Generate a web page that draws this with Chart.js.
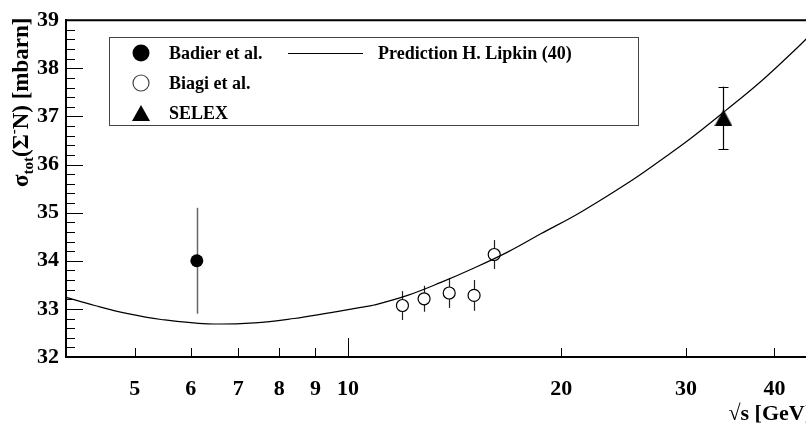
<!DOCTYPE html>
<html><head><meta charset="utf-8">
<script src="https://cdn.jsdelivr.net/npm/chart.js@4/dist/chart.umd.min.js"></script>
<style>html,body{margin:0;padding:0;overflow:hidden;background:#fff;width:806px;height:427px}canvas{display:block}</style>
</head><body><canvas id="c" width="840" height="427"></canvas>
<script>
// ---- data ----
const xTickValues = [5, 6, 7, 8, 9, 10, 20, 30, 40];
const yTickValues = [32, 33, 34, 35, 36, 37, 38, 39];
const badierX = [6.12], badierY = [34.0], badierErr = [1.1];
const biagiX = [11.94, 12.81, 13.90, 15.07, 16.09];
const biagiY = [33.07, 33.21, 33.33, 33.28, 34.13];
const biagiErr = [0.30, 0.27, 0.31, 0.32, 0.30];
const selexX = [33.9], selexY = [36.97], selexErr = [0.65];
const lipkinX = [4.0, 4.39, 4.89, 5.45, 6.34, 7.38, 8.40, 9.36, 9.78, 10.43, 10.89, 12.14, 13.53, 15.07, 16.80, 18.72, 21.31, 24.80, 27.64, 30.46, 34.13, 38.24, 42.61, 44.50, 45.2];
const lipkinY = [33.24, 33.07, 32.90, 32.78, 32.69, 32.71, 32.80, 32.91, 32.96, 33.03, 33.08, 33.28, 33.55, 33.85, 34.18, 34.56, 35.01, 35.61, 36.09, 36.54, 37.12, 37.72, 38.36, 38.63, 38.74];
const seriesNames = ['Badier et al.', 'Biagi et al.', 'SELEX', 'Prediction H. Lipkin (40)'];
const xTitle = '√s [GeV]';
const yTitleParts = [['σ', 0], ['tot', 1], ['(Σ', 0], ['-', 2], ['N) [mbarn]', 0]];

const FONT = '"Liberation Serif", "Times New Roman", serif';
const pts = (xs, ys) => xs.map((x, i) => ({x, y: ys[i]}));

function makeTriangle(w, h) {
  const c = document.createElement('canvas');
  c.width = w; c.height = h;
  const g = c.getContext('2d');
  g.fillStyle = '#000';
  g.beginPath(); g.moveTo(w / 2, 0); g.lineTo(w, h); g.lineTo(0, h); g.closePath(); g.fill();
  return c;
}
const triPlot = makeTriangle(18, 17);
const triLegend = makeTriangle(18, 16);

const errorBars = {
  id: 'errorBars',
  beforeDatasetsDraw(chart) {
    const ctx = chart.ctx, xs = chart.scales.x, ys = chart.scales.y;
    chart.data.datasets.forEach(ds => {
      if (!ds.err) return;
      ctx.save();
      ctx.strokeStyle = ds.errColor; ctx.lineWidth = ds.errWidth;
      ds.data.forEach((p, i) => {
        const px = Math.round(xs.getPixelForValue(p.x)) + 0.5;
        const y1 = ys.getPixelForValue(p.y + ds.err[i]);
        const y2 = ys.getPixelForValue(p.y - ds.err[i]);
        ctx.beginPath(); ctx.moveTo(px, y1); ctx.lineTo(px, y2); ctx.stroke();
        if (ds.cap) {
          ctx.beginPath();
          ctx.moveTo(px - ds.cap, Math.round(y1) + 0.5); ctx.lineTo(px + ds.cap, Math.round(y1) + 0.5);
          ctx.moveTo(px - ds.cap, Math.round(y2) + 0.5); ctx.lineTo(px + ds.cap, Math.round(y2) + 0.5);
          ctx.stroke();
        }
      });
      ctx.restore();
    });
  }
};

const frameAndTicks = {
  id: 'frameAndTicks',
  afterDraw(chart) {
    const ctx = chart.ctx, a = chart.chartArea, xs = chart.scales.x, ys = chart.scales.y;
    ctx.save();
    ctx.strokeStyle = '#000';
    ctx.lineWidth = 2;
    ctx.beginPath();
    ctx.moveTo(a.left - 1, a.top); ctx.lineTo(a.right, a.top); ctx.lineTo(a.right, a.bottom);
    ctx.stroke();
    ctx.lineWidth = 1;
    // y ticks (inward)
    for (let v = ys.min; v <= ys.max + 1e-6; v += 0.2) {
      const major = Math.abs(v - Math.round(v)) < 1e-6;
      const py = Math.round(ys.getPixelForValue(v)) + 0.5;
      const len = major ? 17 : 9;
      ctx.beginPath(); ctx.moveTo(a.left, py); ctx.lineTo(a.left + len, py); ctx.stroke();
    }
    // x ticks (inward)
    xTickValues.forEach(v => {
      const px = Math.round(xs.getPixelForValue(v)) + 0.5;
      const len = v === 10 ? 19 : 9;
      ctx.beginPath(); ctx.moveTo(px, a.bottom); ctx.lineTo(px, a.bottom - len); ctx.stroke();
    });
    // axis titles
    ctx.fillStyle = '#000';
    ctx.font = 'bold 22px ' + FONT;
    ctx.textAlign = 'right'; ctx.textBaseline = 'alphabetic';
    ctx.fillText(xTitle, a.right, 420);
    ctx.translate(28, 187);
    ctx.rotate(-Math.PI / 2);
    ctx.textAlign = 'left';
    let x = 0;
    yTitleParts.forEach(([t, kind]) => {
      const size = kind === 0 ? 23 : 15;
      ctx.font = 'bold ' + size + 'px ' + FONT;
      const dy = kind === 1 ? 5 : (kind === 2 ? -10 : 0);
      ctx.fillText(t, x, dy);
      x += ctx.measureText(t).width;
    });
    ctx.restore();
    // legend
    ctx.save();
    ctx.strokeStyle = '#444'; ctx.lineWidth = 1;
    ctx.fillStyle = '#fff';
    ctx.fillRect(110, 37, 529, 88);
    ctx.strokeRect(109.5, 37.5, 529, 88);
    ctx.font = 'bold 18px ' + FONT;
    ctx.fillStyle = '#000'; ctx.textAlign = 'left'; ctx.textBaseline = 'alphabetic';
    ctx.beginPath(); ctx.arc(141, 53, 8.5, 0, Math.PI * 2); ctx.fill();
    ctx.fillText(seriesNames[0], 169, 59);
    ctx.beginPath(); ctx.arc(141, 83, 8, 0, Math.PI * 2); ctx.fillStyle = '#fff'; ctx.fill(); ctx.lineWidth = 1.2; ctx.stroke();
    ctx.fillStyle = '#000';
    ctx.fillText(seriesNames[1], 169, 89);
    ctx.drawImage(triLegend, 132, 105);
    ctx.fillText(seriesNames[2], 169, 119);
    ctx.strokeStyle = '#000'; ctx.lineWidth = 1.2;
    ctx.beginPath(); ctx.moveTo(288, 53.5); ctx.lineTo(363, 53.5); ctx.stroke();
    ctx.fillText(seriesNames[3], 378, 59);
    ctx.restore();
  }
};

new Chart(document.getElementById('c'), {
  type: 'scatter',
  data: {
    datasets: [
      {label: seriesNames[3], type: 'line', data: pts(lipkinX, lipkinY), borderColor: '#000', borderWidth: 1.2,
       pointRadius: 0, tension: 0.4, fill: false},
      {label: seriesNames[0], data: pts(badierX, badierY), err: badierErr, errColor: '#666', errWidth: 1.5,
       pointRadius: 6.5, backgroundColor: '#000', borderColor: '#000', borderWidth: 0},
      {label: seriesNames[1], data: pts(biagiX, biagiY), err: biagiErr, errColor: '#222', errWidth: 1.2,
       pointRadius: 6, backgroundColor: '#fff', borderColor: '#000', borderWidth: 1.2},
      {label: seriesNames[2], data: pts(selexX, selexY), err: selexErr, errColor: '#000', errWidth: 1.2, cap: 5,
       pointStyle: triPlot, pointRadius: 9, backgroundColor: '#000'}
    ]
  },
  options: {
    responsive: false, animation: false, devicePixelRatio: 1,
    layout: {padding: {top: 17, right: 28, bottom: 0, left: 0}},
    plugins: {legend: {display: false}, tooltip: {enabled: false}},
    scales: {
      x: {
        type: 'logarithmic', min: 4.0, max: 45.2,
        afterBuildTicks: s => { s.ticks = xTickValues.map(v => ({value: v})); },
        afterFit: s => { s.height = 70; },
        grid: {display: false, drawTicks: false},
        border: {display: true, color: '#000', width: 2},
        ticks: {autoSkip: false, maxRotation: 0, padding: 19, color: '#000',
                font: {family: FONT, size: 22, weight: 'bold'}, callback: v => String(v)}
      },
      y: {
        min: 32, max: 39,
        afterBuildTicks: s => { s.ticks = yTickValues.map(v => ({value: v})); },
        afterFit: s => { s.width = 66; },
        grid: {display: false, drawTicks: false},
        border: {display: true, color: '#000', width: 2},
        ticks: {padding: 7, color: '#000', font: {family: FONT, size: 22, weight: 'bold'}, callback: v => String(v)}
      }
    }
  },
  plugins: [errorBars, frameAndTicks]
});
</script>
</body></html>
